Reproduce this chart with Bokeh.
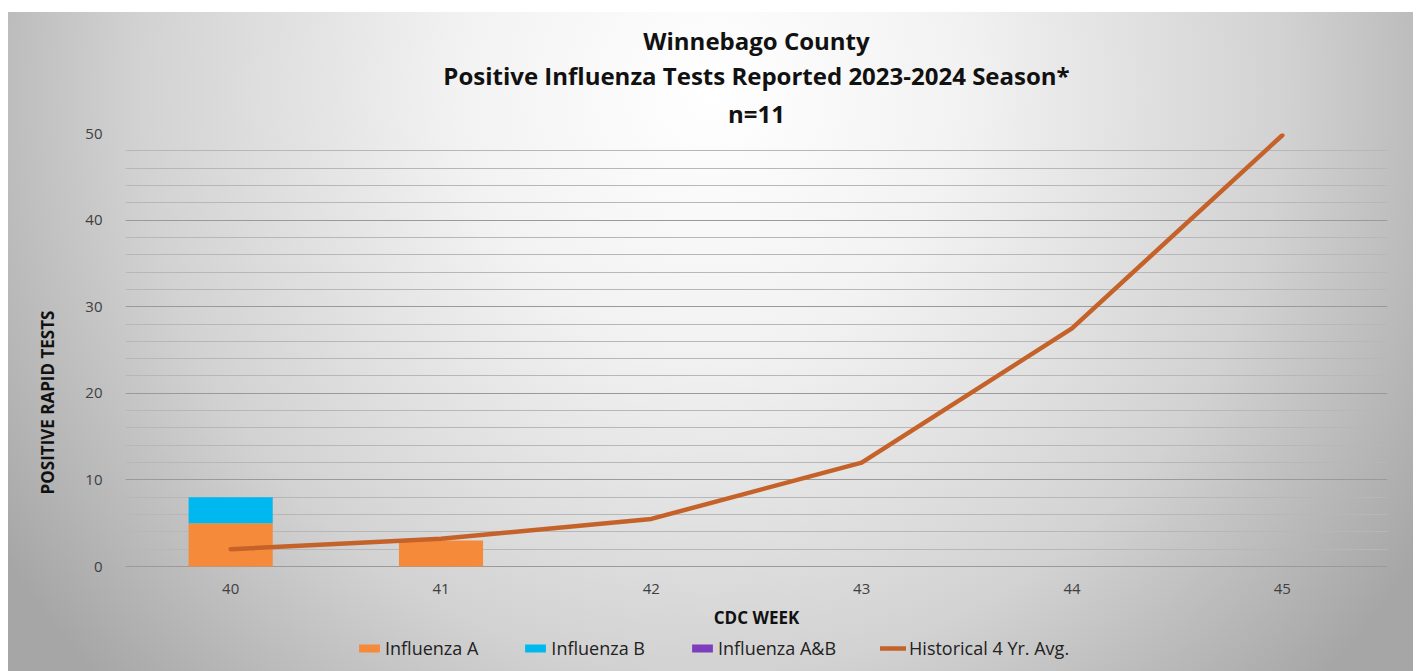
from bokeh.plotting import figure
from bokeh.models import (FactorRange, Range1d, ColumnDataSource, Title, Legend, LegendItem,
                          SingleIntervalTicker)
from bokeh.embed import file_html
from bokeh.resources import INLINE

weeks = ["40", "41", "42", "43", "44", "45"]
flu_a = [5, 3, 0, 0, 0, 0]
flu_b = [3, 0, 0, 0, 0, 0]
flu_ab = [0, 0, 0, 0, 0, 0]
hist_avg = [2.0, 3.2, 5.5, 12.0, 27.5, 49.8]

series = ["flu_a", "flu_b", "flu_ab"]
labels = ["Influenza A", "Influenza B", "Influenza A&B"]
colors = ["#F68A3B", "#00B8F0", "#7E3DBD"]

src = ColumnDataSource(dict(week=weeks, flu_a=flu_a, flu_b=flu_b, flu_ab=flu_ab, hist=hist_avg))

FONT = "Open Sans"
TITLE_SIZE = "24px"

# frame extends below zero so the axis labels and legend sit inside it
p = figure(x_range=FactorRange(*weeks), y_range=Range1d(-12.12, 50),
           frame_width=1262, frame_height=538, output_backend="svg", toolbar_location=None,
           title="Winnebago County", min_border_left=117, min_border_right=26,
           min_border_top=121, min_border_bottom=0)
p.styles = {"margin-left": "8px", "margin-top": "12px",
            "background-image": "radial-gradient(ellipse 60% 130% at 50% 12%, #ffffff 0%, #f2f2f2 30%, #d2d2d2 68%, #a6a6a6 100%)"}
p.background_fill_alpha = 0
p.border_fill_alpha = 0
p.outline_line_color = None

def style_title(t, standoff):
    t.text_font = FONT
    t.text_font_size = TITLE_SIZE
    t.text_font_style = "bold"
    t.align = "center"
    t.text_color = "#111111"
    t.standoff = standoff
    t.offset = -77
    t.text_line_height = 1.0

style_title(p.title, 0)
t3 = Title(text="n=11")
style_title(t3, 7)
p.add_layout(t3, "above")
t2 = Title(text="Positive Influenza Tests Reported 2023-2024 Season*")
style_title(t2, 0)
p.add_layout(t2, "above")

renderers = p.vbar_stack(series, x="week", width=0.4, color=colors, line_color=None,
                         source=src)
line_r = p.line(x="week", y="hist", source=src, line_color="#C5622A", line_width=4.5,
                line_cap="round", line_join="round")

p.yaxis.ticker = SingleIntervalTicker(interval=10, num_minor_ticks=5)
p.yaxis.bounds = (0, 50)
p.ygrid.ticker = p.yaxis.ticker
p.ygrid.bounds = (0, 50)
p.ygrid.grid_line_color = "#9a9a9a"
p.ygrid.minor_grid_line_color = "#b7b7b7"
p.xgrid.grid_line_color = None

for ax in [p.xaxis[0], p.yaxis[0]]:
    ax.axis_line_color = None
    ax.major_tick_line_color = None
    ax.minor_tick_line_color = None
    ax.major_tick_out = 0
    ax.major_label_text_font = FONT
    ax.major_label_text_font_size = "15px"
    ax.major_label_text_color = "#404040"
    ax.axis_label_text_font = FONT
    ax.axis_label_text_font_size = "17px"
    ax.axis_label_text_font_style = "bold"
    ax.axis_label_text_color = "#111111"

p.xaxis.fixed_location = 0
p.xaxis.axis_label = "CDC WEEK"
p.yaxis.axis_label = "POSITIVE RAPID TESTS"
p.xaxis.major_label_standoff = 17
p.xaxis.axis_label_standoff = 9
p.yaxis.major_label_standoff = 19
p.yaxis.axis_label_standoff = 23

items = [LegendItem(label=l, renderers=[r]) for l, r in zip(labels, renderers)]
items.append(LegendItem(label="Historical 4 Yr. Avg.", renderers=[line_r]))
legend = Legend(items=items, orientation="horizontal", location=(231, 11),
                background_fill_alpha=0, border_line_color=None,
                label_text_font=FONT, label_text_font_size="18px", label_text_color="#222222",
                glyph_width=26, glyph_height=10, spacing=44, label_standoff=3,
                padding=0, margin=0, label_height=18)
p.add_layout(legend, "center")

open("out.html", "w").write(file_html(p, INLINE))
